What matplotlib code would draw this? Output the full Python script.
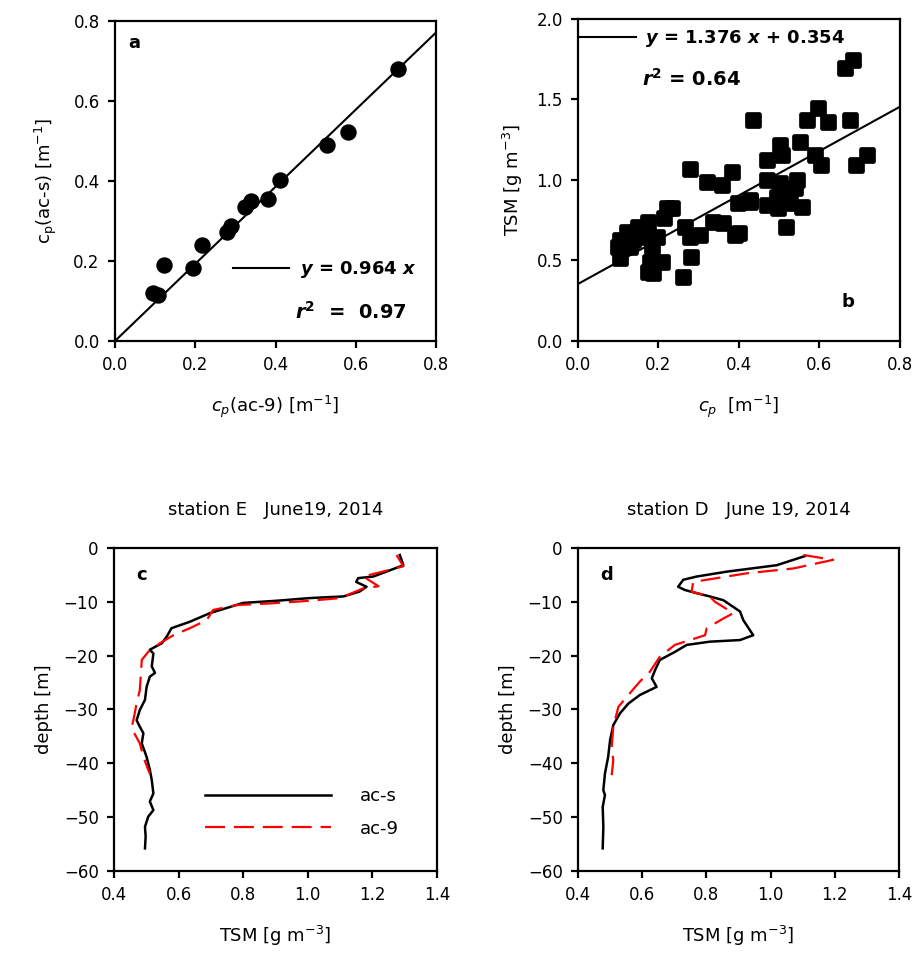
import numpy as np
import matplotlib
matplotlib.use("Agg")
import matplotlib.pyplot as plt
from matplotlib.markers import MarkerStyle

plt.rcParams['font.family'] = ['DejaVu Sans']
plt.rcParams['mathtext.fontset'] = 'dejavusans'
plt.rcParams['font.size'] = 12

# panel a: cp(ac-9) vs cp(ac-s)
cp_ac9 = [0.094, 0.106, 0.123, 0.195, 0.218, 0.278, 0.290, 0.325, 0.340,
          0.382, 0.411, 0.528, 0.580, 0.704]
cp_acs = [0.119, 0.115, 0.190, 0.182, 0.240, 0.272, 0.288, 0.334, 0.350,
          0.354, 0.402, 0.490, 0.522, 0.680]
slope_a = 0.964

# panel b: cp vs TSM
cp_b = [0.663, 0.684, 0.436, 0.568, 0.597, 0.622, 0.676, 0.502, 0.506, 0.552,
        0.589, 0.605, 0.692, 0.717, 0.469, 0.469, 0.502, 0.543, 0.539, 0.510,
        0.494, 0.469, 0.498, 0.527, 0.556, 0.518, 0.427, 0.400, 0.278, 0.320,
        0.357, 0.382, 0.398, 0.427, 0.220, 0.233, 0.214, 0.336, 0.361, 0.266,
        0.278, 0.303, 0.390, 0.282, 0.261, 0.175, 0.150, 0.121, 0.104, 0.100,
        0.137, 0.162, 0.183, 0.196, 0.104, 0.179, 0.175, 0.208, 0.187, 0.129]
tsm_b = [1.694, 1.745, 1.373, 1.373, 1.445, 1.362, 1.373, 1.217, 1.155, 1.238,
         1.155, 1.093, 1.093, 1.155, 1.124, 1.000, 0.980, 1.000, 0.948, 0.917,
         0.896, 0.845, 0.824, 0.855, 0.834, 0.710, 0.865, 0.670, 1.066, 0.990,
         0.969, 1.052, 0.855, 0.876, 0.824, 0.824, 0.762, 0.741, 0.731, 0.710,
         0.648, 0.658, 0.658, 0.524, 0.400, 0.741, 0.710, 0.679, 0.627, 0.586,
         0.627, 0.648, 0.586, 0.648, 0.513, 0.493, 0.430, 0.493, 0.420, 0.586]
slope_b = 1.376
icept_b = 0.354

# panel c: station E profiles
e_acs_tsm = [1.285, 1.296, 1.203, 1.156, 1.150, 1.182, 1.160, 1.110, 1.007, 0.904,
             0.800, 0.697, 0.635, 0.578, 0.563, 0.548, 0.511, 0.522, 0.517, 0.527,
             0.511, 0.501, 0.496, 0.480, 0.470, 0.480, 0.491, 0.486, 0.501, 0.511,
             0.517, 0.522, 0.511, 0.522, 0.506, 0.496, 0.498, 0.496]
e_acs_dep = [-1.3, -3.2, -5.3, -5.6, -6.3, -7.2, -8.1, -9.0, -9.3, -9.8,
             -10.2, -12.1, -13.7, -14.9, -16.5, -17.7, -18.9, -19.6, -22.0, -23.2,
             -23.9, -25.8, -28.2, -30.1, -32.0, -33.2, -34.4, -36.3, -38.8, -41.2,
             -43.1, -45.6, -47.1, -48.7, -49.9, -51.8, -53.6, -55.8]
e_ac9_tsm = [1.275, 1.296, 1.172, 1.219, 1.172, 1.100, 1.007, 0.883, 0.780, 0.707,
             0.687, 0.635, 0.584, 0.542, 0.506, 0.486, 0.480, 0.470, 0.460, 0.455,
             0.460, 0.480, 0.491, 0.506, 0.511]
e_ac9_dep = [-1.3, -3.4, -5.3, -7.1, -7.5, -9.3, -9.8, -10.3, -10.6, -11.5,
             -13.4, -14.9, -16.2, -17.7, -19.3, -20.8, -26.4, -28.9, -32.0, -33.2,
             -34.1, -36.3, -38.8, -41.2, -41.9]

# panel d: station D profiles
d_acs_tsm = [1.107, 1.019, 0.863, 0.770, 0.728, 0.712, 0.733, 0.770, 0.811, 0.853,
             0.905, 0.915, 0.946, 0.905, 0.811, 0.739, 0.702, 0.655, 0.640, 0.630,
             0.645, 0.593, 0.557, 0.531, 0.510, 0.500, 0.494, 0.484, 0.479, 0.484,
             0.477, 0.479, 0.477]
d_acs_dep = [-1.5, -3.2, -4.4, -5.3, -5.9, -7.2, -7.8, -8.4, -9.0, -9.7,
             -11.8, -13.4, -16.2, -17.1, -17.4, -18.0, -19.3, -20.8, -22.7, -24.2,
             -25.8, -27.3, -28.9, -30.7, -32.9, -35.7, -38.8, -41.9, -45.0, -45.9,
             -48.1, -51.8, -55.8]
d_ac9_tsm = [1.102, 1.195, 1.071, 0.926, 0.759, 0.754, 0.811, 0.827, 0.884, 0.853,
             0.801, 0.796, 0.749, 0.702, 0.655, 0.624, 0.593, 0.557, 0.526, 0.510,
             0.505, 0.510, 0.505]
d_ac9_dep = [-1.3, -2.2, -3.8, -4.7, -6.3, -8.1, -9.0, -10.0, -12.1, -13.1,
             -14.9, -16.2, -17.1, -18.0, -20.2, -23.0, -24.8, -27.3, -29.5, -33.2,
             -36.9, -39.4, -42.2]

fig = plt.figure(figsize=(9.17, 9.67), dpi=100)
ax_a = fig.add_axes([0.1254, 0.6474, 0.3501, 0.3309])
ax_b = fig.add_axes([0.6303, 0.6474, 0.3511, 0.3330])
ax_c = fig.add_axes([0.1243, 0.0993, 0.3522, 0.3340])
ax_d = fig.add_axes([0.6303, 0.0993, 0.3500, 0.3340])


def style(ax):
    for s in ax.spines.values():
        s.set_linewidth(1.6)
    ax.tick_params(direction='out', length=5, width=1.6, labelsize=12,
                   top=False, right=False, pad=6)


# ---- a
style(ax_a)
ax_a.scatter(cp_ac9, cp_acs, s=117, color='black', zorder=3)
xx = np.array([0.0, 0.8])
la, = ax_a.plot(xx, slope_a * xx, color='black', lw=1.5)
ax_a.set_xlim(0, 0.8)
ax_a.set_ylim(0, 0.8)
ax_a.set_xticks(np.arange(0, 0.81, 0.2))
ax_a.set_yticks(np.arange(0, 0.81, 0.2))
ax_a.xaxis.set_major_formatter('{x:.1f}')
ax_a.yaxis.set_major_formatter('{x:.1f}')
ax_a.set_xlabel(r'$c_p$(ac-9) [m$^{-1}$]', fontsize=13, labelpad=14)
ax_a.set_ylabel(r'c$_\mathrm{p}$(ac-s) [m$^{-1}$]', fontsize=13, labelpad=10)
ax_a.text(0.04, 0.93, 'a', transform=ax_a.transAxes, fontsize=13,
          fontweight='bold', va='center')
ax_a.legend([la], [r'$\mathbfit{y}$ = 0.964 $\mathbfit{x}$'], loc='center left',
            bbox_to_anchor=(0.367, 0.222), frameon=False, borderpad=0,
            borderaxespad=0, handlelength=3.1, handletextpad=0.6,
            prop={'size': 13, 'weight': 'bold'})
ax_a.text(0.56, 0.09, r'$\mathbfit{r}^{\mathbf{2}}$  =  0.97', transform=ax_a.transAxes,
          fontsize=14, fontweight='bold', va='center')

# ---- b
style(ax_b)
ax_b.scatter(cp_b, tsm_b, s=64, color='black',
             marker=MarkerStyle('s', joinstyle='round'), linewidths=3.4,
             edgecolors='black', zorder=3)
lb, = ax_b.plot(xx, slope_b * xx + icept_b, color='black', lw=1.5)
ax_b.set_xlim(0, 0.8)
ax_b.set_ylim(0, 2.0)
ax_b.set_xticks(np.arange(0, 0.81, 0.2))
ax_b.set_yticks(np.arange(0, 2.01, 0.5))
ax_b.xaxis.set_major_formatter('{x:.1f}')
ax_b.yaxis.set_major_formatter('{x:.1f}')
ax_b.set_xlabel(r'$c_p$  [m$^{-1}$]', fontsize=13, labelpad=14)
ax_b.set_ylabel(r'TSM [g m$^{-3}$]', fontsize=13, labelpad=8)
ax_b.text(0.82, 0.12, 'b', transform=ax_b.transAxes, fontsize=13,
          fontweight='bold', va='center')
ax_b.legend([lb], [r'$\mathbfit{y}$ = 1.376 $\mathbfit{x}$ + 0.354'],
            loc='center left', bbox_to_anchor=(0.0, 0.938), frameon=False,
            borderpad=0, borderaxespad=0, handlelength=3.2, handletextpad=0.5,
            prop={'size': 13, 'weight': 'bold'})
ax_b.text(0.2, 0.815, r'$\mathbfit{r}^{\mathbf{2}}$ = 0.64', transform=ax_b.transAxes,
          fontsize=14, fontweight='bold', va='center')

# ---- c and d
dash = (0, (9, 4))
for ax, acs_t, acs_d, ac9_t, ac9_d, title, letter in [
        (ax_c, e_acs_tsm, e_acs_dep, e_ac9_tsm, e_ac9_dep,
         'station E   June19, 2014', 'c'),
        (ax_d, d_acs_tsm, d_acs_dep, d_ac9_tsm, d_ac9_dep,
         'station D   June 19, 2014', 'd')]:
    style(ax)
    ax.plot(acs_t, acs_d, color='black', lw=1.8, label='ac-s')
    ax.plot(ac9_t, ac9_d, color='red', lw=1.6, linestyle=dash, label='ac-9')
    ax.set_xlim(0.4, 1.4)
    ax.set_ylim(-60, 0)
    ax.set_xticks(np.arange(0.4, 1.41, 0.2))
    ax.set_yticks(np.arange(-60, 1, 10))
    ax.xaxis.set_major_formatter('{x:.1f}')
    ax.set_xlabel(r'TSM [g m$^{-3}$]', fontsize=13, labelpad=14)
    ax.set_ylabel('depth [m]', fontsize=13, labelpad=8)
    ax.set_title(title, fontsize=13, pad=24)
    ax.text(0.07, 0.915, letter, transform=ax.transAxes, fontsize=13,
            fontweight='bold', va='center')

ax_c.legend(loc='center left', bbox_to_anchor=(0.282, 0.181), frameon=False,
            borderpad=0, borderaxespad=0, handlelength=7.0, handletextpad=1.6,
            labelspacing=0.8, fontsize=13)

fig.savefig('out.png', dpi=100)
